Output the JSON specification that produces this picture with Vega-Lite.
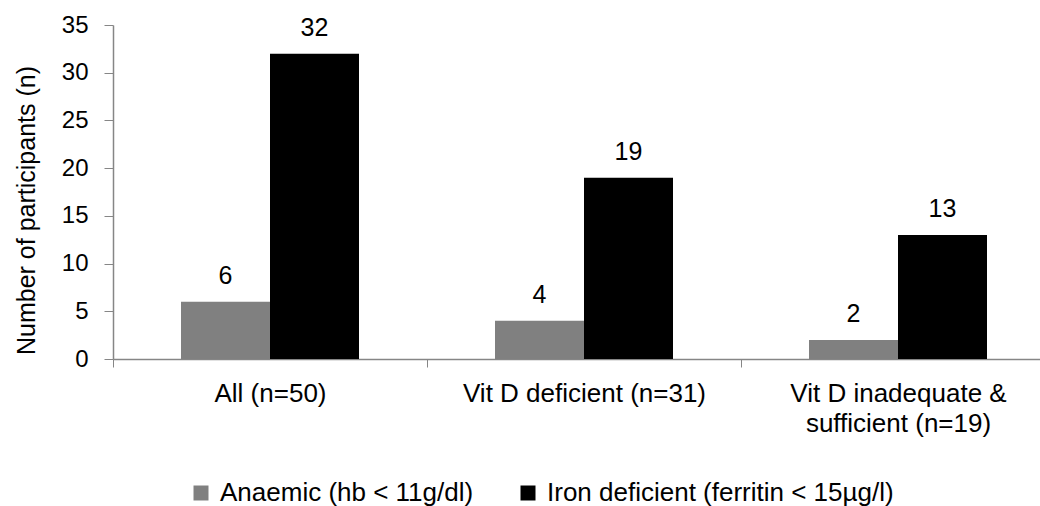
{
  "$schema": "https://vega.github.io/schema/vega-lite/v6.json",
  "width": 942,
  "height": 334,
  "autosize": {"type": "none"},
  "padding": {"left": 113, "top": 25, "right": 0, "bottom": 147},
  "background": "white",
  "config": {
    "font": "Liberation Sans",
    "view": {"stroke": null},
    "axis": {"labelFont": "Liberation Sans", "titleFont": "Liberation Sans", "labelColor": "#000000", "titleColor": "#000000"},
    "legend": {"labelFont": "Liberation Sans"}
  },
  "data": {
    "values": [
      {"group": "All (n=50)", "series": "Anaemic (hb < 11g/dl)", "value": 6},
      {"group": "All (n=50)", "series": "Iron deficient (ferritin < 15µg/l)", "value": 32},
      {"group": "Vit D deficient (n=31)", "series": "Anaemic (hb < 11g/dl)", "value": 4},
      {"group": "Vit D deficient (n=31)", "series": "Iron deficient (ferritin < 15µg/l)", "value": 19},
      {"group": "Vit D inadequate & sufficient (n=19)", "series": "Anaemic (hb < 11g/dl)", "value": 2},
      {"group": "Vit D inadequate & sufficient (n=19)", "series": "Iron deficient (ferritin < 15µg/l)", "value": 13}
    ]
  },
  "encoding": {
    "x": {
      "field": "group",
      "type": "nominal",
      "sort": null,
      "scale": {"paddingInner": 0, "paddingOuter": 0},
      "axis": {
        "title": null,
        "labelAngle": 0,
        "labelFontSize": 26,
        "labelPadding": 13,
        "labelLineHeight": 30,
        "labelExpr": "datum.label == 'Vit D inadequate & sufficient (n=19)' ? ['Vit D inadequate &', 'sufficient (n=19)'] : datum.label",
        "tickBand": "extent",
        "tickSize": 8,
        "tickColor": "#868686",
        "domainColor": "#868686",
        "domainWidth": 1.5,
        "labelLimit": 400
      }
    },
    "xOffset": {"field": "series", "type": "nominal", "sort": null, "scale": {"paddingInner": 0, "paddingOuter": 0.764}},
    "y": {
      "field": "value",
      "type": "quantitative",
      "scale": {"domain": [0, 35]},
      "axis": {
        "title": "Number of participants (n)",
        "titleFontSize": 25,
        "titleFontWeight": "normal",
        "titlePadding": 22,
        "titleY": 185,
        "values": [0, 5, 10, 15, 20, 25, 30, 35],
        "labelFontSize": 24,
        "labelPadding": 16,
        "tickSize": 9,
        "tickColor": "#868686",
        "domainColor": "#868686",
        "domainWidth": 1.5,
        "grid": false
      }
    }
  },
  "layer": [
    {
      "mark": {"type": "bar"},
      "encoding": {
        "color": {
          "field": "series",
          "type": "nominal",
          "sort": null,
          "scale": {"range": ["#808080", "#000000"]},
          "legend": {
            "title": null,
            "orient": "none",
            "direction": "horizontal",
            "legendX": 75,
            "legendY": 455,
            "symbolType": "square",
            "symbolSize": 225,
            "symbolStrokeWidth": 0,
            "labelFontSize": 26,
            "labelColor": "#000000",
            "labelOffset": 6,
            "columnPadding": 41,
            "labelLimit": 500
          }
        }
      }
    },
    {
      "mark": {"type": "text", "baseline": "alphabetic", "dy": -18, "fontSize": 25, "color": "#000000"},
      "encoding": {"text": {"field": "value", "type": "quantitative"}}
    }
  ]
}
